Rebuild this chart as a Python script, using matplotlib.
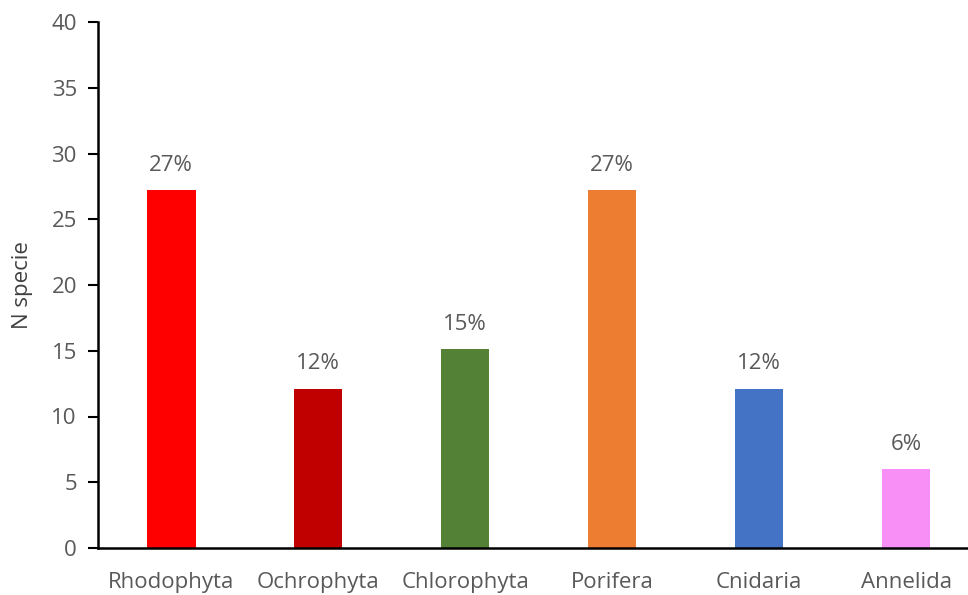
import matplotlib
matplotlib.use("Agg")
import matplotlib.pyplot as plt
import numpy as np

plt.rcParams["font.family"] = ["Open Sans", "DejaVu Sans"]

categories = ["Rhodophyta", "Ochrophyta", "Chlorophyta", "Porifera", "Cnidaria", "Annelida"]
values = [27.2, 12.1, 15.1, 27.2, 12.1, 6.0]
pct_labels = ["27%", "12%", "15%", "27%", "12%", "6%"]
colors = ["#ff0000", "#c00000", "#538135", "#ed7d31", "#4472c4", "#f78ff7"]

fig = plt.figure(figsize=(9.68, 5.95), dpi=100)
ax = fig.add_axes([0.101, 0.079, 0.911, 0.884])

x = np.arange(len(categories))
bars = ax.bar(x, values, width=0.33, color=colors)
for b, lab in zip(bars, pct_labels):
    ax.text(b.get_x() + b.get_width() / 2, b.get_height() + 1.1, lab,
            ha="center", va="bottom", fontsize=16, color="#595959")

ax.set_xlim(-0.5, len(categories) - 0.5)
ax.set_ylim(0, 40)
ax.set_yticks(range(0, 41, 5))
ax.set_xticks(x)
ax.set_xticklabels(categories)
ax.tick_params(axis="x", length=0, pad=17, labelsize=16, labelcolor="#595959")
ax.tick_params(axis="y", length=7, width=1.5, pad=8, labelsize=16, labelcolor="#595959")
ax.set_ylabel("N specie", fontsize=16, color="#404040", labelpad=13)

for s in ["top", "right"]:
    ax.spines[s].set_visible(False)
for s in ["left", "bottom"]:
    ax.spines[s].set_linewidth(1.8)
    ax.spines[s].set_color("black")

fig.savefig("out.png", dpi=100)
